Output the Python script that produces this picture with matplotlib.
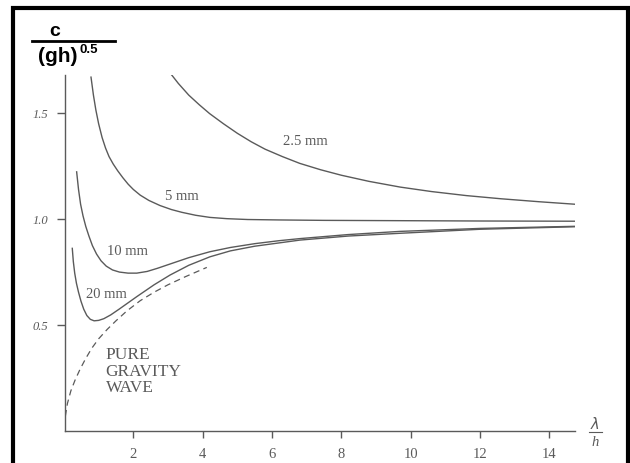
import matplotlib
matplotlib.use("Agg")
import matplotlib.pyplot as plt
from matplotlib.patches import Rectangle
from matplotlib.lines import Line2D

# curves (x = lambda/h, y = c / sqrt(gh))
x_25mm = [3.06, 3.3, 3.6, 3.9, 4.2, 4.6, 5.0, 5.4, 5.8, 6.3, 6.8, 7.4, 8.0, 8.8, 9.7,
          10.6, 11.6, 12.6, 13.7, 14.75]
y_25mm = [1.69, 1.64, 1.585, 1.54, 1.498, 1.45, 1.405, 1.365, 1.33, 1.295, 1.263, 1.233,
          1.207, 1.178, 1.151, 1.13, 1.111, 1.096, 1.082, 1.07]

x_5mm = [0.78, 0.85, 0.92, 1.0, 1.1, 1.2, 1.3, 1.42, 1.55, 1.7, 1.85, 2.0, 2.2, 2.45, 2.77,
         3.1, 3.4, 3.8, 4.21, 4.7, 5.3, 6.2, 7.5, 9.0, 12.0, 14.75]
y_5mm = [1.67, 1.585, 1.515, 1.45, 1.385, 1.335, 1.295, 1.26, 1.228, 1.195, 1.165, 1.14,
         1.113, 1.088, 1.064, 1.045, 1.032, 1.018, 1.008, 1.002, 0.998, 0.996, 0.994, 0.993,
         0.991, 0.99]

x_10mm = [0.366, 0.42, 0.48, 0.55, 0.63, 0.72, 0.82, 0.94, 1.07, 1.22, 1.4, 1.6, 1.85, 2.1,
          2.4, 2.7, 3.06, 3.6, 4.21, 4.8, 5.5, 6.2, 6.81, 8.2, 9.69, 12.0, 14.75]
y_10mm = [1.223, 1.14, 1.07, 1.015, 0.965, 0.92, 0.875, 0.835, 0.803, 0.778, 0.76, 0.75,
          0.745, 0.745, 0.753, 0.768, 0.788, 0.818, 0.846, 0.866, 0.884, 0.898, 0.908, 0.927,
          0.942, 0.956, 0.966]

x_20mm = [0.24, 0.27, 0.31, 0.36, 0.42, 0.49, 0.57, 0.66, 0.76, 0.87, 1.0, 1.15, 1.35, 1.6,
          2.1, 2.6, 3.06, 3.6, 4.21, 4.8, 5.5, 6.81, 8.2, 9.69, 12.0, 14.75]
y_20mm = [0.862, 0.80, 0.745, 0.697, 0.655, 0.613, 0.575, 0.545, 0.527, 0.52, 0.522, 0.53,
          0.548, 0.576, 0.634, 0.69, 0.736, 0.782, 0.822, 0.85, 0.872, 0.901, 0.92, 0.933,
          0.952, 0.964]

x_gravity = [0.04, 0.1, 0.2, 0.32, 0.46, 0.62, 0.8, 1.0, 1.25, 1.5, 1.81, 2.2, 2.6, 3.0, 3.5, 4.12]
y_gravity = [0.07, 0.13, 0.19, 0.24, 0.29, 0.34, 0.39, 0.435, 0.48, 0.52, 0.566, 0.615, 0.655,
             0.69, 0.728, 0.772]

x_ticks = [2, 4, 6, 8, 10, 12, 14]
y_ticks = [0.5, 1.0, 1.5]
y_tick_labels = ["0.5", "1.0", "1.5"]

ink = "#5a5a5a"
serif = ["Liberation Serif", "DejaVu Serif"]

fig = plt.figure(figsize=(6.3, 4.63), dpi=100)
ax = fig.add_axes([65 / 630, 1 - 431 / 463, 510 / 630, 356 / 463])

for xs, ys in [(x_25mm, y_25mm), (x_5mm, y_5mm), (x_10mm, y_10mm), (x_20mm, y_20mm)]:
    ax.plot(xs, ys, color=ink, linewidth=1.0)
ax.plot(x_gravity, y_gravity, color=ink, linewidth=0.9, linestyle=(0, (5, 3.5)))

ax.set_xlim(0.03, 14.74)
ax.set_ylim(0, 1.68)
ax.spines["top"].set_visible(False)
ax.spines["right"].set_visible(False)
for s in ["left", "bottom"]:
    ax.spines[s].set_color(ink)
    ax.spines[s].set_linewidth(1.0)

ax.set_xticks(x_ticks)
ax.set_xticklabels([str(v) for v in x_ticks], family=serif, fontsize=10.5, color=ink)
ax.set_yticks(y_ticks)
ax.set_yticklabels(y_tick_labels, family=serif, fontsize=9, style="italic", color=ink)
ax.tick_params(axis="x", length=5, width=1, color=ink, pad=7)
ax.tick_params(axis="y", length=6, width=1, color=ink, pad=6)

# curve labels
lab = dict(family=serif, color=ink, ha="center", va="center")
ax.text(6.95, 1.365, "2.5 mm", fontsize=10.5, **lab)
ax.text(3.4, 1.108, "5 mm", fontsize=10.5, **lab)
ax.text(1.83, 0.846, "10 mm", fontsize=10.5, **lab)
ax.text(1.22, 0.645, "20 mm", fontsize=10.5, **lab)
ax.text(1.2, 0.28, "PURE\nGRAVITY\nWAVE", fontsize=12.5, family=serif, color=ink,
        ha="left", va="center", linespacing=1.05)

# lambda / h at the end of the x axis
fig.text(595 / 630, 1 - 424 / 463, r"$\lambda$", fontsize=10.5, color=ink, ha="center", va="center")
fig.add_artist(Line2D([589 / 630, 602 / 630], [1 - 432 / 463, 1 - 432 / 463],
                      color=ink, linewidth=0.8, transform=fig.transFigure))
fig.text(595 / 630, 1 - 443 / 463, "h", fontsize=10.5, style="italic", family=serif,
         color=ink, ha="center", va="center")

# y label drawn as a fraction in the corner
fig.text(55 / 630, 1 - 32 / 463, "c", fontsize=14, fontweight="bold",
         family="Liberation Sans", ha="center", va="center")
fig.add_artist(Line2D([32 / 630, 115 / 630], [1 - 41 / 463, 1 - 41 / 463],
                      color="black", linewidth=2, transform=fig.transFigure))
fig.text(58 / 630, 1 - 56 / 463, "(gh)", fontsize=15, fontweight="bold",
         family="Liberation Sans", ha="center", va="center")
fig.text(79 / 630, 1 - 50 / 463, "0.5", fontsize=9.5, fontweight="bold",
         family="Liberation Sans", ha="left", va="center")

# thick frame around the scan
fig.add_artist(Rectangle((13 / 630, -0.05), 615 / 630, 1 - 8 / 463 + 0.05, fill=False,
                         edgecolor="black", linewidth=3, transform=fig.transFigure))

fig.savefig("out.png", dpi=100)
